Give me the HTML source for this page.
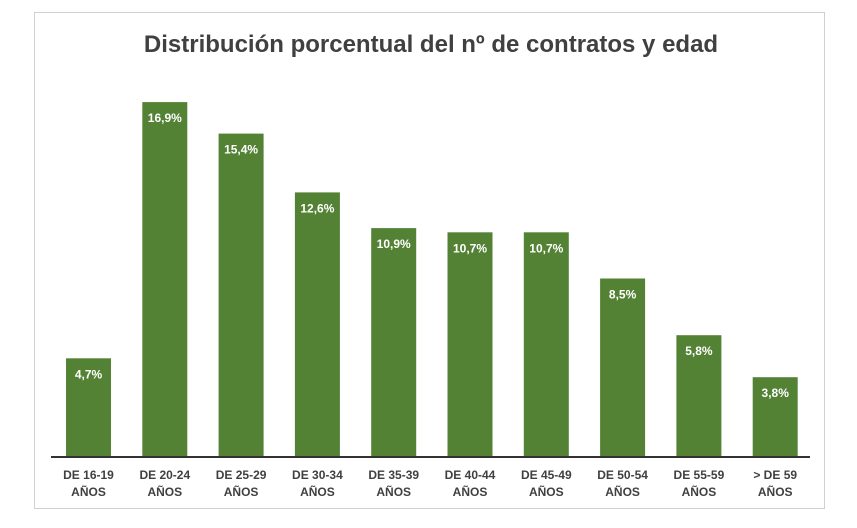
<!DOCTYPE html>
<html><head><meta charset="utf-8"><style>
body{margin:0;background:#fff;width:857px;height:528px;overflow:hidden;font-family:"Liberation Sans",sans-serif}
#frame{position:absolute;left:34px;top:12px;width:791px;height:497px;border:1px solid #d0d0d0;box-sizing:border-box}
</style></head><body>
<div id="frame"></div>
<svg id="c" width="857" height="528" style="position:absolute;left:0;top:0">
<text x="431" y="52" text-anchor="middle" font-size="24" font-weight="bold" fill="#404040">Distribución porcentual del nº de contratos y edad</text>
</svg>
<script>
const categories=["DE 16-19","DE 20-24","DE 25-29","DE 30-34","DE 35-39","DE 40-44","DE 45-49","DE 50-54","DE 55-59","> DE 59"];
const values=[4.7,16.9,15.4,12.6,10.9,10.7,10.7,8.5,5.8,3.8];
const valueLabels=["4,7%","16,9%","15,4%","12,6%","10,9%","10,7%","10,7%","8,5%","5,8%","3,8%"];
const svg=document.getElementById('c');const NS='http://www.w3.org/2000/svg';
const base=457,scale=21.0,x0=66,step=76.3,bw=45;
function y(v){return base-v*scale;}
function x(i){return x0+i*step;}
function mk(t,a){const e=document.createElementNS(NS,t);for(const k in a)e.setAttribute(k,a[k]);svg.appendChild(e);return e;}
values.forEach((v,i)=>{
 const r=mk('rect',{x:x(i),y:y(v),width:bw,height:v*scale,fill:'#548235'});
 
 
 const t=mk('text',{x:x(i)+bw/2,y:y(v)+20,'text-anchor':'middle','font-size':'12','font-weight':'bold',fill:'#fff'});
 t.textContent=valueLabels[i];
 
 
 const l1=mk('text',{x:x(i)+bw/2,y:479,'text-anchor':'middle','font-size':'12','font-weight':'bold',fill:'#404040'});
 l1.textContent=categories[i];
 
 
 const l2=mk('text',{x:x(i)+bw/2,y:496,'text-anchor':'middle','font-size':'12','font-weight':'bold',fill:'#404040'});
 l2.textContent='AÑOS';
 
 
});
const ax=mk('line',{x1:51,x2:810,y1:base,y2:base,stroke:'#333',"stroke-width":2});


</script>
</body></html>
